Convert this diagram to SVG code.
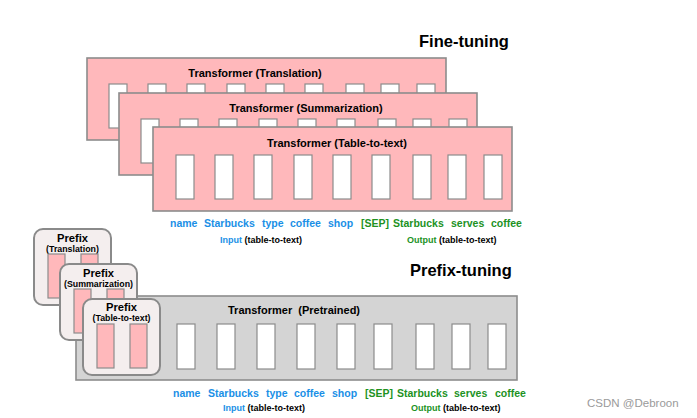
<svg xmlns="http://www.w3.org/2000/svg" width="697" height="418" viewBox="0 0 697 418">
<style>
text{font-family:"Liberation Sans",Arial,sans-serif;font-weight:bold}
.h{font-size:16.5px;fill:#000}
.t{font-size:11px;fill:#000}
.box{fill:#ffb8bb;stroke:#8c8c8c;stroke-width:1.6}
.gbox{fill:#d4d4d4;stroke:#8c8c8c;stroke-width:1.6}
.tok{fill:#fff;stroke:#8c8c8c;stroke-width:1.2}
.pbox{fill:#f4eeee;stroke:#8a8a8a;stroke-width:2}
.ptok{fill:#ffb8bb;stroke:#8c8c8c;stroke-width:1.2}
.w{font-size:10.5px}
.b{fill:#1a8fe6}
.g{fill:#21921f}
.s{font-size:9px;fill:#000}
.pf{font-size:11.2px;fill:#000;text-anchor:middle}
.ps{font-size:8.8px;fill:#000;text-anchor:middle}
</style>
<defs>
<g id="toks">
<rect class="tok" x="0" y="0" width="18" height="44"/>
<rect class="tok" x="39" y="0" width="18" height="44"/>
<rect class="tok" x="78" y="0" width="18" height="44"/>
<rect class="tok" x="118" y="0" width="18" height="44"/>
<rect class="tok" x="157" y="0" width="18" height="44"/>
<rect class="tok" x="196" y="0" width="18" height="44"/>
<rect class="tok" x="237" y="0" width="18" height="44"/>
<rect class="tok" x="272" y="0" width="18" height="44"/>
<rect class="tok" x="308" y="0" width="18" height="44"/>
</g>
</defs>

<text class="h" x="419" y="47">Fine-tuning</text>

<g id="ft-translation">
<rect class="box" x="87" y="58" width="359" height="82"/>
<text class="t" x="255" y="77" text-anchor="middle">Transformer (Translation)</text>
<use href="#toks" x="109" y="84"/>
</g>
<g id="ft-summarization">
<rect class="box" x="119" y="93" width="358" height="82"/>
<text class="t" x="306" y="112" text-anchor="middle">Transformer (Summarization)</text>
<use href="#toks" x="141" y="119"/>
</g>
<g id="ft-table">
<rect class="box" x="153" y="127" width="359" height="84"/>
<text class="t" x="337" y="147" text-anchor="middle">Transformer (Table-to-text)</text>
<use href="#toks" x="176" y="155"/>
</g>

<g id="ft-words" class="w">
<text class="b" x="170" y="227">name</text>
<text class="b" x="204" y="227">Starbucks</text>
<text class="b" x="262" y="227">type</text>
<text class="b" x="290" y="227">coffee</text>
<text class="b" x="328" y="227">shop</text>
<text class="g" x="361" y="227">[SEP]</text>
<text class="g" x="393" y="227">Starbucks</text>
<text class="g" x="451" y="227">serves</text>
<text class="g" x="491" y="227">coffee</text>
</g>
<text class="s" x="220" y="243"><tspan class="b">Input</tspan> (table-to-text)</text>
<text class="s" x="407" y="243"><tspan class="g">Output</tspan> (table-to-text)</text>

<text class="h" x="410" y="276">Prefix-tuning</text>

<g id="pt-transformer">
<rect class="gbox" x="76" y="296" width="441" height="84"/>
<text class="t" x="228" y="314" xml:space="preserve">Transformer  (Pretrained)</text>
<rect class="tok" x="177" y="324" width="18" height="45"/>
<rect class="tok" x="217" y="324" width="18" height="45"/>
<rect class="tok" x="257" y="324" width="18" height="45"/>
<rect class="tok" x="297" y="324" width="18" height="45"/>
<rect class="tok" x="337" y="324" width="18" height="45"/>
<rect class="tok" x="374" y="324" width="18" height="45"/>
<rect class="tok" x="416" y="324" width="18" height="45"/>
<rect class="tok" x="452" y="324" width="18" height="45"/>
<rect class="tok" x="488" y="324" width="18" height="45"/>
</g>

<g id="prefix-translation">
<rect class="pbox" x="34" y="229" width="77" height="76" rx="9"/>
<text class="pf" x="72.5" y="242">Prefix</text>
<text class="ps" x="72.5" y="251.5">(Translation)</text>
<rect class="ptok" x="48" y="254" width="17" height="44"/>
<rect class="ptok" x="81" y="254" width="17" height="44"/>
</g>
<g id="prefix-summarization">
<rect class="pbox" x="60" y="264" width="77" height="76" rx="9"/>
<text class="pf" x="98.5" y="277">Prefix</text>
<text class="ps" x="98.5" y="286.5">(Summarization)</text>
<rect class="ptok" x="74" y="289" width="17" height="44"/>
<rect class="ptok" x="107" y="289" width="17" height="44"/>
</g>
<g id="prefix-table">
<rect class="pbox" x="83" y="299" width="77" height="76" rx="9"/>
<text class="pf" x="121.5" y="311">Prefix</text>
<text class="ps" x="121.5" y="320.5">(Table-to-text)</text>
<rect class="ptok" x="97" y="324" width="17" height="44"/>
<rect class="ptok" x="130" y="324" width="17" height="44"/>
</g>

<g id="pt-words" class="w">
<text class="b" x="173" y="397">name</text>
<text class="b" x="208" y="397">Starbucks</text>
<text class="b" x="266" y="397">type</text>
<text class="b" x="294" y="397">coffee</text>
<text class="b" x="332" y="397">shop</text>
<text class="g" x="365" y="397">[SEP]</text>
<text class="g" x="397" y="397">Starbucks</text>
<text class="g" x="454" y="397">serves</text>
<text class="g" x="495" y="397">coffee</text>
</g>
<text class="s" x="223" y="411"><tspan class="b">Input</tspan> (table-to-text)</text>
<text class="s" x="411" y="411"><tspan class="g">Output</tspan> (table-to-text)</text>

<text x="587" y="407" style="font-weight:normal;font-size:11.5px;fill:#9a9a9a">CSDN @Debroon</text>
<g id="connectors"/>
</svg>
